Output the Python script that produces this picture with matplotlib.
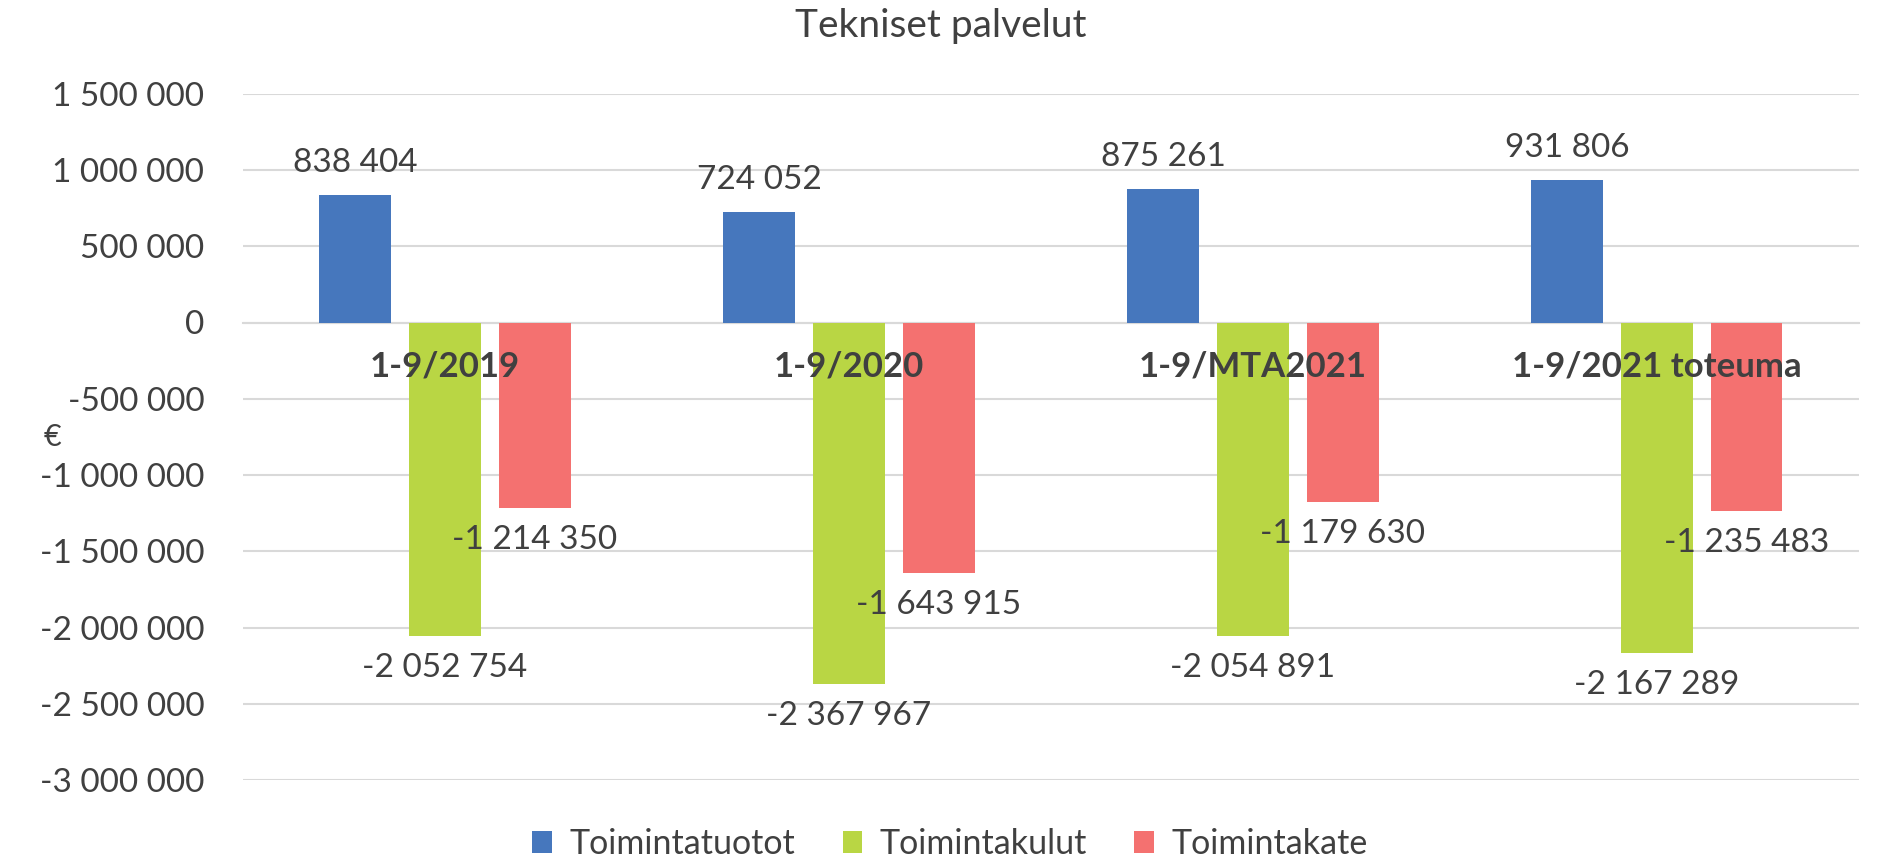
import numpy as np
import matplotlib
matplotlib.use("Agg")
from matplotlib import pyplot as plt
from matplotlib.ticker import FuncFormatter, MultipleLocator

# Datos del grafico
kategoriat = ["1-9/2019", "1-9/2020", "1-9/MTA2021", "1-9/2021 toteuma"]
tuotot = [838404, 724052, 875261, 931806]
kulut = [-2052754, -2367967, -2054891, -2167289]
kate = [-1214350, -1643915, -1179630, -1235483]
sarjat = ["Toimintatuotot", "Toimintakulut", "Toimintakate"]
varit = ["#4677BD", "#B9D644", "#F47170"]

plt.rcParams['font.family'] = ['Lato', 'DejaVu Sans']
tekstivari = "#404040"

def muoto(v, pos=None):
    return f"{int(round(v)):,}".replace(",", " ")

fig = plt.figure(figsize=(18.81, 8.6), dpi=100)
ax = fig.add_axes([0.1292, 0.093, 0.8590, 0.798])

x = np.arange(len(kategoriat))
leveys = 0.178
vali = 0.222
for i, (arvot, nimi, vari) in enumerate(zip([tuotot, kulut, kate], sarjat, varit)):
    palkit = ax.bar(x + (i - 1) * vali, arvot, leveys, color=vari, label=nimi, zorder=3)
    for p, v in zip(palkit, arvot):
        dy = 23 if v >= 0 else -23
        ax.annotate(muoto(v), (p.get_x() + p.get_width() / 2, v),
                    xytext=(0, dy), textcoords="offset points",
                    ha="center", va="center", fontsize=24, color=tekstivari, zorder=4)

ax.set_ylim(-3000000, 1500000)
ax.set_xlim(-0.5, len(kategoriat) - 0.5)
ax.yaxis.set_major_locator(MultipleLocator(500000))
ax.yaxis.set_major_formatter(FuncFormatter(muoto))
ax.grid(axis="y", color="#D9D9D9", linewidth=1.5, zorder=0)
for s in ["top", "right", "left"]:
    ax.spines[s].set_visible(False)
ax.spines["bottom"].set_position(("data", 0))
ax.spines["bottom"].set_color("#D9D9D9")
ax.spines["bottom"].set_linewidth(1.5)
ax.spines["bottom"].set_zorder(0)

ax.set_xticks(x)
ax.set_xticklabels(kategoriat, fontsize=25, fontweight="bold", color=tekstivari)
ax.tick_params(axis="x", length=0, pad=20)
ax.tick_params(axis="y", length=0, pad=28, labelsize=24, labelcolor=tekstivari)
ax.xaxis.set_zorder(5)

ax.set_ylabel("€", rotation=0, fontsize=22, color=tekstivari, va="center")
ax.yaxis.set_label_coords(-0.118, 0.5)

fig.suptitle("Tekniset palvelut", fontsize=28, color=tekstivari, y=0.97, va="center")
fig.legend(loc="center", bbox_to_anchor=(0.505, 0.0186), ncol=3, frameon=False,
           fontsize=24.5, handlelength=0.58, handleheight=0.58, handletextpad=0.5,
           columnspacing=1.4, labelcolor=tekstivari)

fig.savefig("out.png", dpi=100)
